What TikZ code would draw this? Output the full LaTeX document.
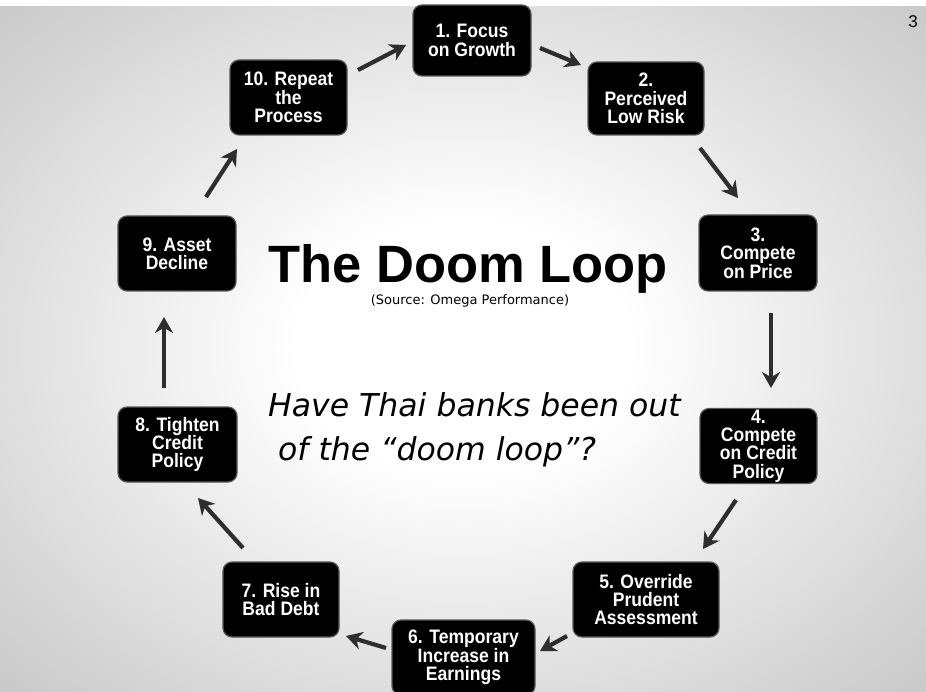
\documentclass[tikz,border=0pt]{standalone}
\usepackage{fontspec}
\setmainfont{Liberation Sans}
\newfontfamily\qfont{DejaVu Sans}
\newfontfamily\boxfont{Liberation Sans}[FakeStretch=0.9]
\usetikzlibrary{arrows.meta}
% soft radial background: white centre fading to grey at the edges
\pgfdeclareradialshading{slidebg}{\pgfpoint{0bp}{0bp}}{color(0bp)=(white); color(9bp)=(white); color(50bp)=(black!33); color(71bp)=(black!41)}
\begin{document}
\begin{tikzpicture}[x=1pt,y=-1pt,
  stepbox/.style={fill=black, draw=black!65, line width=1.2pt, rounded corners=9pt,
    text=white, font=\boxfont\fontsize{19.5}{18.3}\selectfont\bfseries, align=center,
    inner sep=0pt, minimum height=75pt, minimum width=117pt},
  arr/.style={-{Stealth[length=16pt,width=18pt]}, line width=4.2pt, draw=black!82}]
\useasboundingbox (0,0) rectangle (926,692);
\shade[shading=slidebg] (0,0) rectangle (926,692);
\fill[white] (0,0) rectangle (926,6);

% page number
\node[font=\fontsize{17}{17}\selectfont, anchor=base] (pg) at (913,28) {3};

% the ten steps of the loop
\node[stepbox, minimum width=118pt, minimum height=71pt] (b1) at (472,40.5) {1. Focus\\on Growth};
\node[stepbox, minimum width=116pt, minimum height=73pt] (b2) at (646,98.5) {2.\\Perceived\\Low Risk};
\node[stepbox, minimum width=118pt, minimum height=76pt] (b3) at (758,253) {3.\\Compete\\on Price};
\node[stepbox] (b4) at (758.5,446) {4.\\Compete\\on Credit\\Policy};
\node[stepbox, minimum width=146pt] (b5) at (646,599.5) {5. Override\\Prudent\\Assessment};
\node[stepbox, minimum width=143pt] (b6) at (463.5,657.5) {6. Temporary\\Increase in\\Earnings};
\node[stepbox, minimum width=116pt] (b7) at (281,599.5) {7. Rise in\\Bad Debt};
\node[stepbox, minimum width=119pt] (b8) at (177.5,444.5) {8. Tighten\\Credit\\Policy};
\node[stepbox, minimum width=118pt] (b9) at (177,253.5) {9. Asset\\Decline};
\node[stepbox] (b10) at (288.5,97.5) {10. Repeat\\the\\Process};

% arrow ends between neighbouring steps
\coordinate (a1s) at (358,70);  \coordinate (a1e) at (406,45);
\coordinate (a2s) at (540,48);  \coordinate (a2e) at (581,65);
\coordinate (a3s) at (700,148); \coordinate (a3e) at (738,198);
\coordinate (a4s) at (771,313); \coordinate (a4e) at (771,388);
\coordinate (a5s) at (736,500); \coordinate (a5e) at (703,549);
\coordinate (a6s) at (567,636); \coordinate (a6e) at (540,651);
\coordinate (a7s) at (386,648); \coordinate (a7e) at (346,636);
\coordinate (a8s) at (243,548); \coordinate (a8e) at (198,498);
\coordinate (a9s) at (164,388); \coordinate (a9e) at (164,317);
\coordinate (a10s) at (206,197); \coordinate (a10e) at (237,149);
\foreach \i in {1,...,10} { \draw[arr] (a\i s) -- (a\i e); }

% centre texts
\node[font=\fontsize{52.5}{52.5}\selectfont\bfseries, anchor=base] (title) at (468,283) {The Doom Loop};
\node[font=\qfont\fontsize{13}{13}\selectfont, anchor=base] (src) at (470,305) {(Source: Omega Performance)};
\node[font=\qfont\itshape\fontsize{31.5}{31.5}\selectfont, anchor=base west, inner sep=0pt] (q1) at (268,416) {Have Thai banks been out};
\node[font=\qfont\itshape\fontsize{31.5}{31.5}\selectfont, anchor=base west, inner sep=0pt] (q2) at (278,460) {of the “doom loop”?};
\end{tikzpicture}
\end{document}
